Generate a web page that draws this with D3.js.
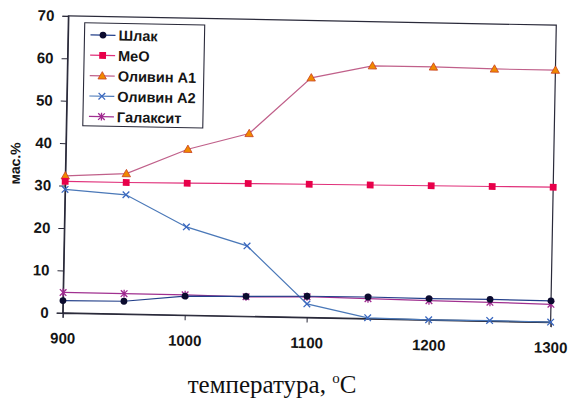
<!DOCTYPE html>
<html><head><meta charset="utf-8">
<script src="https://cdn.jsdelivr.net/npm/d3@7"></script>
<style>
html,body{margin:0;padding:0;background:#fff;}
svg{display:block;}
</style>
</head><body>
<svg id="chart" width="570" height="410"></svg>
<script>
// ---- data ----
const temps = [900, 950, 1000, 1050, 1100, 1150, 1200, 1250, 1300];
const slag = [2.9, 3.0, 4.5, 4.7, 5.0, 5.1, 5.0, 5.1, 5.0];
const meo = [31.0, 31.0, 31.1, 31.3, 31.4, 31.5, 31.6, 31.7, 31.8];
const olivineA1 = [32.3, 33.1, 39.1, 43.1, 56.5, 59.6, 59.6, 59.4, 59.4];
const olivineA2 = [29.1, 28.1, 20.8, 16.6, 3.2, 0.2, 0.0, 0.1, 0.0];
const galaxite = [4.8, 4.8, 4.8, 4.6, 4.9, 4.7, 4.5, 4.4, 4.2];
const seriesNames = ["Шлак", "MeO", "Оливин A1", "Оливин A2", "Галаксит"];
const xTicks = [900, 1000, 1100, 1200, 1300];
const yTicks = [0, 10, 20, 30, 40, 50, 60, 70];
const yTitle = "мас.%";
const xTitle = "температура, ";

const series = [
  {name: seriesNames[0], values: slag, line: "#24408a", mark: "#0b0b2e", shape: "circle"},
  {name: seriesNames[1], values: meo, line: "#e0307a", mark: "#e8004a", shape: "square"},
  {name: seriesNames[2], values: olivineA1, line: "#c0608a", mark: "#f08a00", edge: "#c84020", shape: "triangle"},
  {name: seriesNames[3], values: olivineA2, line: "#4a78b8", mark: "#3a68c0", shape: "x"},
  {name: seriesNames[4], values: galaxite, line: "#a03090", mark: "#a02890", shape: "star"}
];

const svg = d3.select("#chart");
const L = 65.5, R = 553.5, T = 20.5, B = 317.5;
const x = d3.scaleLinear().domain([900, 1300]).range([L, R]);
const y = d3.scaleLinear().domain([0, 70]).range([B, T]);

const g = svg.append("g").attr("transform", "rotate(1.09,309.5,169)");

// frame
g.append("rect").attr("x", L).attr("y", T).attr("width", R - L).attr("height", B - T)
  .attr("fill", "none").attr("stroke", "#2a2a3a").attr("stroke-width", 1.2);

// axes
const yAxis = d3.axisLeft(y).tickValues(yTicks).tickSize(6).tickPadding(8).tickFormat(d3.format("d"));
const xAxis = d3.axisBottom(x).tickValues(xTicks).tickSize(5).tickPadding(15).tickFormat(d3.format("d"));
const ya = g.append("g").attr("transform", `translate(${L},0)`).call(yAxis);
const xa = g.append("g").attr("transform", `translate(0,${B})`).call(xAxis);
[ya, xa].forEach(a => {
  a.select(".domain").attr("stroke", "#2a2a3a").attr("stroke-width", 1.2);
  a.selectAll(".tick line").attr("stroke", "#2a2a3a").attr("stroke-width", 1);
  a.selectAll(".tick text").attr("fill", "#151515")
    .style("font-family", "'Liberation Sans', Arial, sans-serif")
    .style("font-weight", "bold").style("font-size", "15px");
});

// y title
g.append("text").attr("transform", "translate(20,169) rotate(-90)")
  .attr("text-anchor", "middle")
  .style("font-family", "'Liberation Sans', Arial, sans-serif")
  .style("font-weight", "bold").style("font-size", "14px").attr("fill", "#151515")
  .text(yTitle);

// markers
function drawMarker(sel, s, cx, cy, size) {
  const c = size || 1;
  if (s.shape === "circle") {
    sel.append("circle").attr("cx", cx).attr("cy", cy).attr("r", 3.4 * c).attr("fill", s.mark);
  } else if (s.shape === "square") {
    sel.append("rect").attr("x", cx - 3.4 * c).attr("y", cy - 3.4 * c).attr("width", 6.8 * c).attr("height", 6.8 * c).attr("fill", s.mark);
  } else if (s.shape === "triangle") {
    const h = 4.2 * c;
    sel.append("path").attr("d", `M${cx},${cy - h}L${cx + h},${cy + h * 0.75}L${cx - h},${cy + h * 0.75}Z`)
      .attr("fill", s.mark).attr("stroke", s.edge).attr("stroke-width", 0.8);
  } else if (s.shape === "x") {
    const h = 3.3 * c;
    sel.append("path").attr("d", `M${cx - h},${cy - h}L${cx + h},${cy + h}M${cx - h},${cy + h}L${cx + h},${cy - h}`)
      .attr("stroke", s.mark).attr("stroke-width", 1.3).attr("fill", "none");
  } else if (s.shape === "star") {
    const h = 3.3 * c;
    sel.append("path").attr("d", `M${cx - h},${cy - h}L${cx + h},${cy + h}M${cx - h},${cy + h}L${cx + h},${cy - h}M${cx},${cy - h * 1.2}L${cx},${cy + h * 1.2}`)
      .attr("stroke", s.mark).attr("stroke-width", 1.3).attr("fill", "none");
  }
}

const line = d3.line().x((d, i) => x(temps[i])).y(d => y(d));
const plot = g.append("g");
series.slice().reverse().forEach(s => {
  plot.append("path").datum(s.values).attr("d", line)
    .attr("fill", "none").attr("stroke", s.line).attr("stroke-width", 1.2);
  s.values.forEach((v, i) => drawMarker(plot, s, x(temps[i]), y(v)));
});

// legend
const lg = g.append("g");
lg.append("rect").attr("x", 82).attr("y", 27).attr("width", 120).attr("height", 103)
  .attr("fill", "#fff").attr("stroke", "#2a2a3a").attr("stroke-width", 1.1);
series.forEach((s, i) => {
  const yy = 39 + i * 20.4;
  lg.append("line").attr("x1", 88).attr("x2", 113).attr("y1", yy).attr("y2", yy)
    .attr("stroke", s.line).attr("stroke-width", 1.2);
  drawMarker(lg, s, 100.5, yy);
  lg.append("text").attr("x", 116).attr("y", yy).attr("dy", "0.36em")
    .style("font-family", "'Liberation Sans', Arial, sans-serif")
    .style("font-weight", "bold").style("font-size", "14.5px").attr("fill", "#151515")
    .text(s.name);
});

// x title (not rotated)
const xt = svg.append("text").attr("x", 272).attr("y", 393).attr("text-anchor", "middle")
  .style("font-family", "'Liberation Serif', 'Times New Roman', serif")
  .style("font-size", "25px").attr("fill", "#111");
xt.append("tspan").text(xTitle);
xt.append("tspan").attr("dy", "-10").style("font-size", "15px").text("o");
xt.append("tspan").attr("dy", "10").text("C");
</script>
</body></html>
